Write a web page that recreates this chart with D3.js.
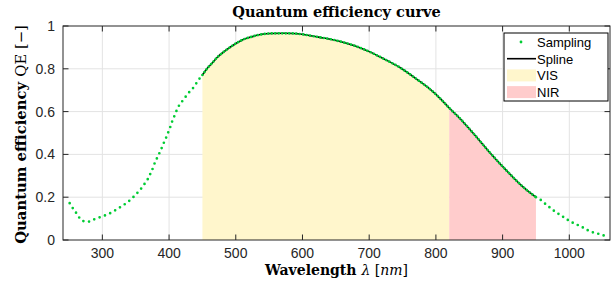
<!DOCTYPE html>
<html>
<head>
<meta charset="utf-8">
<script src="https://cdn.jsdelivr.net/npm/d3@7"></script>
<style>
  body { margin: 0; background: #fff; }
</style>
</head>
<body>
<div id="chart"></div>
<script>
const WIDTH = 615;
const HEIGHT = 291;

const wavelength = [251, 255, 259, 263, 267, 272, 280, 288, 297, 305, 314, 322, 330, 338, 344, 350,
  355, 360, 364, 368, 371, 374, 377, 379, 382, 385, 387, 390, 392, 395, 397, 399.5, 402, 404.5,
  407.5, 410.5, 414, 418, 422, 426, 430, 435, 439, 443, 447, 450, 457, 465, 472, 482, 492, 502,
  512, 522, 537, 552, 572, 587, 602, 617, 632, 647, 662, 679, 701, 721, 746, 771, 796, 808, 820,
  836, 856, 881, 906, 931, 950, 959, 965, 972, 979, 987, 995, 1003, 1012, 1020, 1028, 1037,
  1045, 1052];
const qe = [0.172, 0.152, 0.135, 0.116, 0.098, 0.088, 0.086, 0.097, 0.107, 0.116, 0.129, 0.144,
  0.160, 0.177, 0.194, 0.211, 0.230, 0.247, 0.266, 0.284, 0.303, 0.324, 0.345, 0.365, 0.383,
  0.402, 0.419, 0.436, 0.453, 0.473, 0.491, 0.509, 0.530, 0.553, 0.576, 0.599, 0.623, 0.641,
  0.658, 0.674, 0.690, 0.706, 0.724, 0.742, 0.760, 0.771, 0.801, 0.828, 0.853, 0.879, 0.902,
  0.922, 0.938, 0.948, 0.960, 0.965, 0.966, 0.965, 0.960, 0.952, 0.944, 0.935, 0.923, 0.907,
  0.879, 0.848, 0.806, 0.752, 0.692, 0.656, 0.617, 0.568, 0.499, 0.408, 0.324, 0.247, 0.200,
  0.183, 0.166, 0.149, 0.132, 0.116, 0.099, 0.084, 0.071, 0.059, 0.045, 0.034, 0.028, 0.021];

const splineRange = [450, 950];
const visRange = [450, 820];
const nirRange = [820, 950];

const xTicks = [300, 400, 500, 600, 700, 800, 900, 1000];
const yTicks = [0, 0.2, 0.4, 0.6, 0.8, 1];
const yTickLabels = ['0', '0.2', '0.4', '0.6', '0.8', '1'];
const legendItems = ['Sampling', 'Spline', 'VIS', 'NIR'];

const GREEN = '#00cc33';
const VIS_COL = '#fff6cc';
const NIR_COL = '#ffcccc';
const AXIS_COL = '#262626';
const SANS = '"Liberation Sans", Arial, sans-serif';
const SERIF = '"DejaVu Serif", "Liberation Serif", serif';

const data = wavelength.map((w, i) => ({ w: w, q: qe[i] }));

const svg = d3.select('#chart').append('svg')
  .attr('width', WIDTH).attr('height', HEIGHT)
  .attr('font-family', SANS);

const margin = { left: 63, right: 5, top: 26, bottom: 51 };

const x = d3.scaleLinear().domain([241, 1061]).range([margin.left, WIDTH - margin.right]);
const y = d3.scaleLinear().domain([0, 1]).range([HEIGHT - margin.bottom, margin.top]);

const x0 = x.range()[0], x1 = x.range()[1];
const y0 = y.range()[0], y1 = y.range()[1];

// grid
svg.append('g').selectAll('line').data(xTicks).join('line')
  .attr('x1', d => x(d)).attr('x2', d => x(d)).attr('y1', y0).attr('y2', y1)
  .attr('stroke', '#e3e3e3').attr('stroke-width', 1);
svg.append('g').selectAll('line').data(yTicks.slice(1, -1)).join('line')
  .attr('x1', x0).attr('x2', x1).attr('y1', d => y(d)).attr('y2', d => y(d))
  .attr('stroke', '#e3e3e3').attr('stroke-width', 1);

// filled bands under the curve
const area = d3.area().curve(d3.curveMonotoneX)
  .x(d => x(d.w)).y0(y(0)).y1(d => y(d.q));
const inRange = r => data.filter(d => d.w >= r[0] && d.w <= r[1]);

svg.append('path').datum(inRange(visRange)).attr('d', area).attr('fill', VIS_COL);
svg.append('path').datum(inRange(nirRange)).attr('d', area).attr('fill', NIR_COL);

// spline
const line = d3.line().curve(d3.curveMonotoneX).x(d => x(d.w)).y(d => y(d.q));
svg.append('path').datum(inRange(splineRange)).attr('d', line)
  .attr('fill', 'none').attr('stroke', '#000').attr('stroke-width', 1.6);

// sampling, drawn as a dotted line through the samples
const dotted = [
  { r: [0, 450], gap: 5.7 },
  { r: [450, 950], gap: 3.5 },
  { r: [950, 2000], gap: 5.6 }
];
svg.append('g').selectAll('path').data(dotted).join('path')
  .attr('d', d => line(inRange(d.r)))
  .attr('fill', 'none').attr('stroke', GREEN).attr('stroke-width', 2.7)
  .attr('stroke-linecap', 'round')
  .attr('stroke-dasharray', d => `0 ${d.gap}`);

// axes box and ticks
svg.append('rect').attr('x', x0).attr('y', y1).attr('width', x1 - x0).attr('height', y0 - y1)
  .attr('fill', 'none').attr('stroke', AXIS_COL).attr('stroke-width', 1);

const TL = 5.5;
const ticks = svg.append('g').attr('stroke', AXIS_COL).attr('stroke-width', 1);
ticks.selectAll('.xb').data(xTicks).join('line').attr('class', 'xb')
  .attr('x1', d => x(d)).attr('x2', d => x(d)).attr('y1', y0).attr('y2', y0 - TL);
ticks.selectAll('.xt').data(xTicks).join('line').attr('class', 'xt')
  .attr('x1', d => x(d)).attr('x2', d => x(d)).attr('y1', y1).attr('y2', y1 + TL);
ticks.selectAll('.yl').data(yTicks).join('line').attr('class', 'yl')
  .attr('x1', x0).attr('x2', x0 + TL).attr('y1', d => y(d)).attr('y2', d => y(d));
ticks.selectAll('.yr').data(yTicks).join('line').attr('class', 'yr')
  .attr('x1', x1).attr('x2', x1 - TL).attr('y1', d => y(d)).attr('y2', d => y(d));

// tick labels
svg.append('g').selectAll('text').data(xTicks).join('text')
  .attr('x', d => x(d)).attr('y', y0 + 18)
  .attr('text-anchor', 'middle').attr('font-size', 14).attr('fill', AXIS_COL)
  .text(d => d);
svg.append('g').selectAll('text').data(yTicks).join('text')
  .attr('x', x0 - 8).attr('y', d => y(d) + 5)
  .attr('text-anchor', 'end').attr('font-size', 14).attr('fill', AXIS_COL)
  .text((d, i) => yTickLabels[i]);

// title and axis labels
svg.append('text').attr('x', (x0 + x1) / 2).attr('y', 17)
  .attr('text-anchor', 'middle').attr('font-family', SERIF)
  .attr('font-weight', 'bold').attr('font-size', 14.5).attr('fill', '#000')
  .text('Quantum efficiency curve');

const xl = svg.append('text').attr('x', (x0 + x1) / 2).attr('y', 275)
  .attr('text-anchor', 'middle').attr('font-family', SERIF).attr('font-size', 14).attr('fill', '#000');
xl.append('tspan').attr('font-weight', 'bold').text('Wavelength ');
xl.append('tspan').attr('font-style', 'italic').text('λ ');
xl.append('tspan').text('[');
xl.append('tspan').attr('font-style', 'italic').text('nm');
xl.append('tspan').text(']');

const yl = svg.append('text')
  .attr('transform', `translate(26, ${(y0 + y1) / 2 + 1.5}) rotate(-90)`)
  .attr('text-anchor', 'middle').attr('font-family', SERIF).attr('font-size', 14.8).attr('fill', '#000');
yl.append('tspan').attr('font-weight', 'bold').text('Quantum efficiency ');
yl.append('tspan').text('QE [−]');

// legend
const lg = svg.append('g').attr('transform', 'translate(504, 33)');
lg.append('rect').attr('width', 104).attr('height', 68)
  .attr('fill', '#fff').attr('stroke', '#000').attr('stroke-width', 1);
const rowY = i => 9 + i * 16.7;
lg.selectAll('text').data(legendItems).join('text')
  .attr('x', 33).attr('y', (d, i) => rowY(i) + 5)
  .attr('font-size', 13).attr('fill', '#000').text(d => d);
lg.append('circle').attr('cx', 17).attr('cy', rowY(0)).attr('r', 1.4).attr('fill', GREEN);
lg.append('line').attr('x1', 3).attr('x2', 32).attr('y1', rowY(1)).attr('y2', rowY(1))
  .attr('stroke', '#000').attr('stroke-width', 1.6);
lg.append('rect').attr('x', 3).attr('y', rowY(2) - 6).attr('width', 29).attr('height', 12).attr('fill', VIS_COL);
lg.append('rect').attr('x', 3).attr('y', rowY(3) - 6).attr('width', 29).attr('height', 12).attr('fill', NIR_COL);
</script>
</body>
</html>
